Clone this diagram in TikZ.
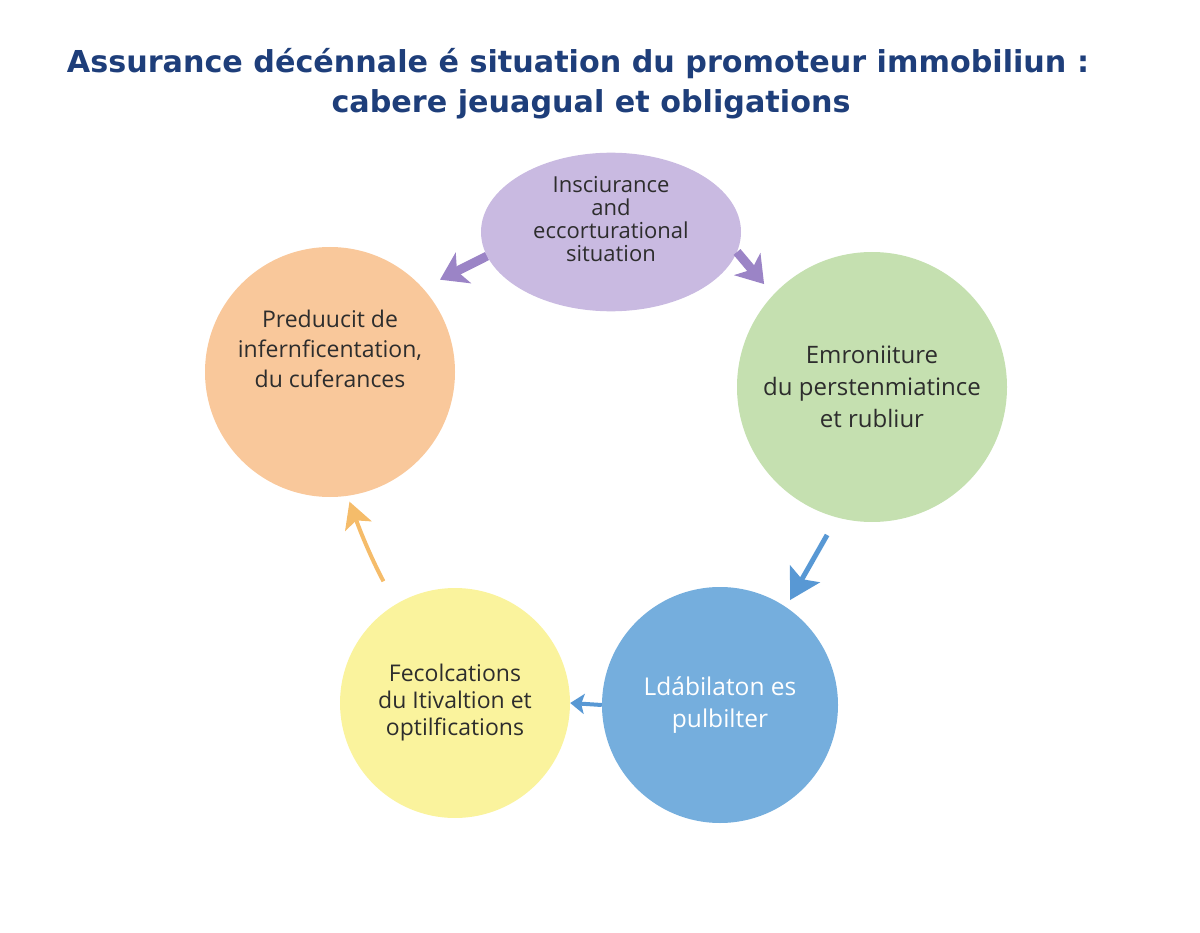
\documentclass[tikz,border=0pt]{standalone}
\usepackage{fontspec}
\setsansfont{Open Sans}
\newfontfamily\headfont{DejaVu Sans}
\usetikzlibrary{arrows.meta, shapes.geometric}

\definecolor{titleblue}{RGB}{30,62,122}
\definecolor{txtgray}{RGB}{45,45,45}
\definecolor{lilac}{RGB}{201,186,225}
\definecolor{lilacdark}{RGB}{155,132,198}
\definecolor{peach}{RGB}{249,200,155}
\definecolor{peachdark}{RGB}{245,188,106}
\definecolor{sage}{RGB}{197,224,176}
\definecolor{skyblue}{RGB}{117,174,221}
\definecolor{skydark}{RGB}{88,152,212}
\definecolor{lemon}{RGB}{250,243,157}

\tikzset{
  titletxt/.style={text=titleblue, font=\headfont\bfseries\fontsize{30.2}{34}\selectfont, inner sep=0pt},
  bubble/.style={circle, inner sep=0pt, align=center, text=txtgray},
  fatarrow/.style={line width=#1, -{Stealth[length=26pt, width=34pt, inset=7pt]}},
}

\begin{document}
\begin{tikzpicture}[x=1pt, y=-1pt, font=\sffamily]

\useasboundingbox (0,0) rectangle (1200,933);

% title
\node[titletxt, anchor=base] (title1) at (578,73) {Assurance décénnale é situation du promoteur immobiliun :};
\node[titletxt, anchor=base] (title2) at (591,113) {cabere jeuagual et obligations};

% the five stages
\node[ellipse, fill=lilac, inner sep=0pt, align=center, text=txtgray,
      minimum width=260pt, minimum height=156pt, text depth=27pt,
      font=\sffamily\fontsize{22}{23}\selectfont] (insur) at (611,232)
      {Insciurance\\and\\eccorturational\\situation};

\node[bubble, fill=peach, minimum size=250pt, text depth=47pt,
      font=\sffamily\fontsize{23}{30}\selectfont] (prod) at (330,372)
      {Preduucit de\\infernficentation,\\du cuferances};

\node[bubble, fill=sage, minimum size=270pt,
      font=\sffamily\fontsize{24}{32}\selectfont] (emron) at (872,387)
      {Emroniiture\\du perstenmiatince\\et rubliur};

\node[bubble, fill=skyblue, minimum size=236pt, text=white,
      font=\sffamily\fontsize{24.5}{32}\selectfont] (edab) at (720,705)
      {Ldábilaton es\\pulbilter};

\node[bubble, fill=lemon, minimum size=230pt,
      font=\sffamily\fontsize{23}{27}\selectfont] (fecol) at (455,703)
      {Fecolcations\\du Itivaltion et\\optilfications};

% arrows round the cycle
\draw[fatarrow=9pt, lilacdark, shorten >=19pt] (insur.191) -- (prod.42);
\draw[fatarrow=9pt, lilacdark, shorten >=14pt] (insur.351) -- (emron.137);
\draw[skydark, line width=5pt, -{Stealth[length=30pt, width=34pt, inset=6pt]},
      shorten <=20pt, shorten >=8pt] (emron.255) -- (edab.56);
\draw[skydark, line width=4pt, -{Stealth[length=14pt, width=20pt, inset=3pt]}]
      (edab.west) -- (fecol.east);
\draw[peachdark, line width=4pt, -{Stealth[length=26pt, width=28pt, inset=6pt]},
      shorten <=26pt, shorten >=6pt] (fecol.121) to[bend left=4] (prod.-82);

\end{tikzpicture}
\end{document}
